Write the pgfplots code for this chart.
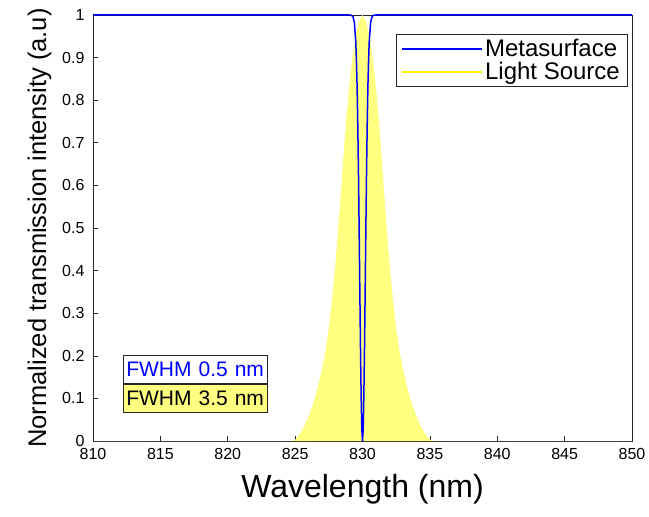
\documentclass[border=0pt]{standalone}
\usepackage{fontspec}
\setmainfont{Liberation Sans}
\usepackage{pgfplots}
\pgfplotsset{compat=1.18}
\definecolor{srcyellow}{RGB}{255,255,128}
\definecolor{axgray}{RGB}{38,38,38}

\begin{document}
\begin{tikzpicture}
\begin{axis}[
    width=539pt, height=426pt, scale only axis,
    xmin=810, xmax=850, ymin=0, ymax=1,
    xtick={810,815,...,850},
    ytick={0,0.1,0.2,0.3,0.4,0.5,0.6,0.7,0.8,0.9,1},
    clip=false,
    axis line style={axgray, line width=0.6pt},
    tick style={axgray, line width=0.6pt},
    tick align=inside, xtick pos=left, ytick pos=left,
    major tick length=5pt,
    /pgf/number format/assume math mode=true,
    ticklabel style={font=\fontsize{16}{16}\selectfont},
    yticklabel style={/pgf/number format/fixed, /pgf/number format/precision=1,
        xshift=-5pt},
    xticklabel style={/pgf/number format/set thousands separator={}, yshift=-4pt},
    xlabel={Wavelength (nm)},
    ylabel={Normalized transmission intensity (a.u)},
    xlabel style={font=\fontsize{32}{32}\selectfont, yshift=-8pt},
    ylabel style={font=\fontsize{25.5}{25.5}\selectfont, yshift=4pt},
    legend cell align=left,
    legend style={at={(0.991,0.955)}, anchor=north east,
        font=\fontsize{24}{30}\selectfont, draw=axgray, line width=0.6pt,
        inner xsep=5pt, inner ysep=3pt},
    legend image code/.code={\draw[#1] (0pt,0pt) -- (80pt,0pt);},
]
% light source spectrum
\addplot[fill=srcyellow, draw=none, forget plot] coordinates {
    (810,0) (824.75,0) (825,0.003) (825.25,0.012) (825.5,0.025)
    (825.75,0.040) (826,0.058) (826.25,0.080) (826.5,0.105)
    (826.75,0.135) (827,0.170) (827.25,0.210) (827.5,0.265)
    (827.75,0.335) (828,0.420) (828.25,0.520) (828.5,0.630)
    (828.75,0.740) (829,0.830) (829.25,0.900) (829.5,0.955)
    (829.75,0.985) (830,1.0)
    (830.25,0.985) (830.5,0.955) (830.75,0.900) (831,0.830)
    (831.25,0.740) (831.5,0.630) (831.75,0.520) (832,0.420)
    (832.25,0.335) (832.5,0.265) (832.75,0.210) (833,0.170)
    (833.25,0.135) (833.5,0.105) (833.75,0.080) (834,0.058)
    (834.25,0.040) (834.5,0.025) (834.75,0.012) (835,0.003)
    (835.25,0) (850,0)
} \closedcycle;
% metasurface transmission
\addplot[blue, line width=1.5pt, forget plot] coordinates {
    (810,1) (829,1) (829.2,0.9992) (829.3,0.9956) (829.4,0.9816)
    (829.5,0.9375) (829.55,0.8942) (829.6,0.8304) (829.65,0.7430)
    (829.7,0.6315) (829.75,0.5000) (829.8,0.3583) (829.85,0.2209)
    (829.9,0.1050) (829.95,0.0273) (830,0)
    (830.05,0.0273) (830.1,0.1050) (830.15,0.2209) (830.2,0.3583)
    (830.25,0.5000) (830.3,0.6315) (830.35,0.7430) (830.4,0.8304)
    (830.45,0.8942) (830.5,0.9375) (830.6,0.9816) (830.7,0.9956)
    (830.8,0.9992) (831,1) (850,1)
};
\addlegendimage{draw=blue, line width=1.5pt}
\addlegendentry{Metasurface}
\addlegendimage{draw=yellow, line width=2pt}
\addlegendentry{Light Source}

\coordinate (bl) at (rel axis cs:0,0);
\coordinate (tr) at (rel axis cs:1,1);
\node[draw=axgray, line width=0.6pt, fill=srcyellow, text=black,
      anchor=south west, text width=138pt, align=left,
      inner xsep=3pt, minimum height=28.5pt,
      font=\fontsize{21}{21}\selectfont]
    (lo) at (rel axis cs:0.0557,0.0657) {FWHM 3.5 nm};
\node[draw=axgray, line width=0.6pt, fill=white, text=blue,
      anchor=south west, text width=138pt, align=left,
      inner xsep=3pt, minimum height=28.5pt,
      font=\fontsize{21}{21}\selectfont]
    at (lo.north west) {FWHM 0.5 nm};
\end{axis}
\pgfresetboundingbox
\path ([shift={(-93pt,-75pt)}]bl) rectangle ([shift={(17pt,15pt)}]tr);
\end{tikzpicture}
\end{document}
